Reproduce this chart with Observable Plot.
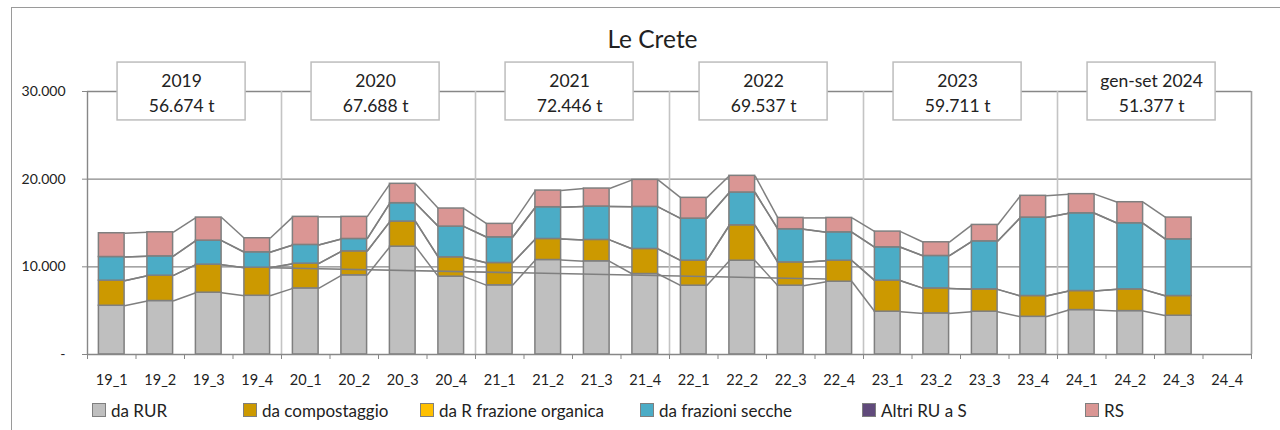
<!DOCTYPE html>
<html><head><meta charset="utf-8">
<script src="https://cdn.jsdelivr.net/npm/d3@7"></script>
<script src="https://cdn.jsdelivr.net/npm/@observablehq/plot@0.6"></script>
<style>
body{margin:0;background:#fff;font-family:Lato,"Noto Sans",sans-serif;}
#wrap{position:relative;width:1280px;height:430px;overflow:hidden;}
#frame{position:absolute;left:11px;top:7px;width:1300px;height:440px;border-left:1px solid #9a9a9a;border-top:1px solid #9a9a9a;}
#chart{position:absolute;left:0;top:0;}
#legend{position:absolute;left:0;top:400px;width:1280px;height:22px;}
.item{position:absolute;top:0;height:20px;display:flex;align-items:center;font-size:17px;color:#222;white-space:nowrap;}
.sw{width:12px;height:12px;border:1px solid #7f7f7f;margin-right:5px;}
</style></head><body>
<div id="wrap"><div id="frame"></div><div id="chart"></div><div id="legend"></div></div>
<script>
// ---- data ----
const categories = ["19_1","19_2","19_3","19_4","20_1","20_2","20_3","20_4","21_1","21_2","21_3","21_4","22_1","22_2","22_3","22_4","23_1","23_2","23_3","23_4","24_1","24_2","24_3","24_4"];
const seriesNames = ["da RUR","da compostaggio","da R frazione organica","da frazioni secche","Altri RU a S","RS"];
const daRUR        = [5560,6100,7050,6700,7540,9030,12300,8880,7890,10780,10630,9180,7850,10700,7850,8300,4880,4690,4880,4300,5070,4950,4420,null];
const daCompost    = [2860,2890,3200,3200,2820,2740,2860,2210,2550,2400,2440,2860,2850,4040,2660,2400,3540,2850,2550,2370,2170,2480,2250,null];
const daRFrazOrg   = [0,0,0,0,0,0,0,0,0,0,0,0,0,0,0,0,0,0,0,0,0,0,0,null];
const daSecche     = [2700,2210,2740,1760,2140,1410,2100,3500,2930,3620,3810,4800,4800,3740,3780,3240,3810,3700,5480,8950,8870,7540,6470,null];
const altriRUaS    = [0,0,0,0,0,0,0,0,0,0,0,0,0,0,0,0,0,0,0,0,0,0,0,null];
const rs           = [2710,2740,2630,1600,3200,2520,2210,2060,1530,1900,2050,3080,2370,1900,1290,1640,1790,1560,1870,2480,2180,2400,2480,null];
const yearLabels   = ["2019","2020","2021","2022","2023","gen-set 2024"];
const yearTotals   = ["56.674 t","67.688 t","72.446 t","69.537 t","59.711 t","51.377 t"];
const trendCats    = ["19_4","22_4"];
const trendValues  = [9900, 8600];
const yTicks       = [0, 10000, 20000, 30000];
const title        = "Le Crete";

// ---- styles ----
const colors = ["#bfbfbf","#cc9900","#ffc000","#4bacc6","#604a7b","#da9694"];
const legendLeft = [92, 243, 420, 640, 862, 1085];
const hw = 0.265; // half bar width in bands
const grey = "#878787";

const seriesValues = [daRUR, daCompost, daRFrazOrg, daSecche, altriRUaS, rs];

// stack
const segs = [];
const tops = seriesValues.map(() => []);
categories.forEach((c, i) => {
  let base = 0;
  seriesValues.forEach((vals, s) => {
    const v = vals[i];
    if (v == null) { tops[s][i] = null; return; }
    const y1 = base, y2 = base + v;
    tops[s][i] = y2;
    if (v > 0) segs.push({i, s, y1, y2});
    base = y2;
  });
});
const links = [];
tops.forEach((t, s) => {
  for (let i = 0; i < t.length - 1; i++) {
    if (t[i] != null && t[i+1] != null) links.push({x1: i + hw, x2: i + 1 - hw, y1: t[i], y2: t[i+1]});
  }
});
const years = yearLabels.map((l, k) => ({label: l, total: yearTotals[k], c: 1.5 + 4*k - 0.06}));
const trend = [{x1: categories.indexOf(trendCats[0]) + hw, x2: categories.indexOf(trendCats[1]) - hw, y1: trendValues[0], y2: trendValues[1]}];
const fmt = d => d === 0 ? "-" : d3.format(",.0f")(d).replace(/,/g, ".");

const chart = Plot.plot({
  width: 1280, height: 395,
  marginTop: 91, marginBottom: 41, marginLeft: 87, marginRight: 29,
  x: {type: "linear", domain: [-0.5, 23.5]},
  y: {domain: [0, 30000]},
  style: {fontFamily: "Lato, 'Noto Sans', sans-serif", fontSize: "14px", color: "#222", background: "transparent"},
  marks: [
    Plot.ruleY([10000, 20000, 30000], {stroke: grey, strokeWidth: 1.4}),
    Plot.ruleX([3.5, 7.5, 11.5, 15.5, 19.5], {y1: 0, y2: 30000, stroke: "#c4c4c4", strokeWidth: 1.6}),
    Plot.ruleX([23.5], {y1: 0, y2: 30000, stroke: "#a0a0a0", strokeWidth: 1.6}),
    Plot.ruleX([-0.5], {y1: 0, y2: 30000, stroke: grey, strokeWidth: 1.4}),
    Plot.axisY(yTicks, {tickSize: 5, tickPadding: 17, tickFormat: fmt, stroke: grey, fontSize: 14, fill: "#222"}),
    Plot.axisX(d3.range(-0.5, 24, 1), {tickSize: 5, tickFormat: () => "", stroke: grey}),
    Plot.axisX(d3.range(0, 24), {tickSize: 0, tickPadding: 20, tickFormat: i => categories[i], fontSize: 14.5, fill: "#222"}),
    Plot.rectY(segs, {x1: d => d.i - hw, x2: d => d.i + hw, y1: "y1", y2: "y2", fill: d => colors[d.s], stroke: "#7f7f7f", strokeWidth: 1.5}),
    Plot.link(links, {x1: "x1", x2: "x2", y1: "y1", y2: "y2", stroke: "#7f7f7f", strokeWidth: 1.5}),
    Plot.link(trend, {x1: "x1", x2: "x2", y1: "y1", y2: "y2", stroke: "#7f7f7f", strokeWidth: 1.5}),
    Plot.ruleY([0], {stroke: grey, strokeWidth: 1.4}),
    Plot.rect(years, {x1: d => d.c - 1.32, x2: d => d.c + 1.32, y1: 30000 - 3300, y2: 30000 + 3300, fill: "white", stroke: "#bdbdbd", strokeWidth: 1.5}),
    Plot.text(years, {x: "c", y: 30000, text: d => d.label + "\n" + d.total, lineHeight: 1.4, fontSize: 17.5, fill: "#222"}),
    Plot.text([title], {frameAnchor: "top", lineAnchor: "middle", dy: -51, dx: -17, fontSize: 24.5, fill: "#222"})
  ]
});
document.getElementById("chart").appendChild(chart);

const legend = document.getElementById("legend");
seriesNames.forEach((n, k) => {
  const it = document.createElement("div");
  it.className = "item";
  it.style.left = legendLeft[k] + "px";
  const sw = document.createElement("span");
  sw.className = "sw";
  sw.style.background = colors[k];
  const tx = document.createElement("span");
  tx.textContent = n;
  it.appendChild(sw); it.appendChild(tx);
  legend.appendChild(it);
});
</script>
</body></html>
